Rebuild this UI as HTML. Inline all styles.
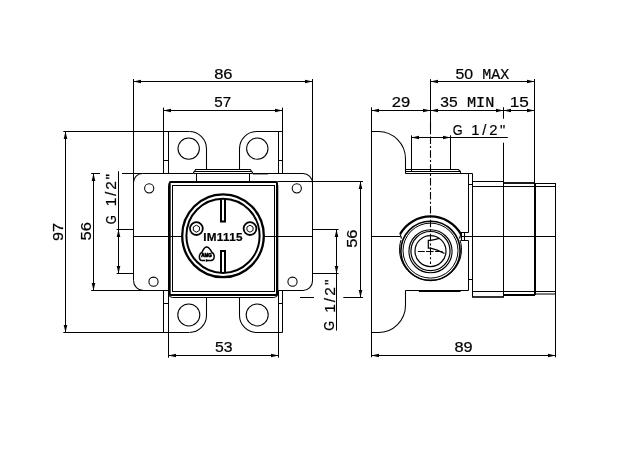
<!DOCTYPE html>
<html><head><meta charset="utf-8"><style>
html,body{margin:0;padding:0;background:#fff;width:630px;height:453px;overflow:hidden}
svg{display:block;will-change:transform}
text{font-family:"Liberation Sans",sans-serif}
</style></head><body>
<svg width="630" height="453" viewBox="0 0 630 453" stroke="#000" stroke-linecap="butt">
<line x1="133.5" y1="81.5" x2="312.5" y2="81.5" stroke-width="1.05" />
<polygon points="133.50,81.50 141.00,79.70 141.00,83.30" fill="#000" stroke="none"/>
<polygon points="312.50,81.50 305.00,79.70 305.00,83.30" fill="#000" stroke="none"/>
<line x1="133.5" y1="79" x2="133.5" y2="280.5" stroke-width="1.05" />
<line x1="312.5" y1="79" x2="312.5" y2="281" stroke-width="1.05" />
<text x="214.17" y="78.94" font-size="14.8" font-weight="normal" text-anchor="start" textLength="18.37" lengthAdjust="spacingAndGlyphs" stroke="#000" stroke-width="0.22" fill="#000">86</text>
<line x1="163.5" y1="110.5" x2="282.5" y2="110.5" stroke-width="1.05" />
<polygon points="163.50,110.50 171.00,108.70 171.00,112.30" fill="#000" stroke="none"/>
<polygon points="282.50,110.50 275.00,108.70 275.00,112.30" fill="#000" stroke="none"/>
<line x1="163.5" y1="107.6" x2="163.5" y2="173.5" stroke-width="1.05" />
<line x1="282.5" y1="107.6" x2="282.5" y2="173.5" stroke-width="1.05" />
<text x="214.21" y="107.26" font-size="14.8" font-weight="normal" text-anchor="start" textLength="16.94" lengthAdjust="spacingAndGlyphs" stroke="#000" stroke-width="0.22" fill="#000">57</text>
<line x1="63.3" y1="131.5" x2="189" y2="131.5" stroke-width="1.05" />
<line x1="63.3" y1="332.5" x2="189" y2="332.5" stroke-width="1.05" />
<line x1="65.5" y1="131.5" x2="65.5" y2="332.5" stroke-width="1.05" />
<polygon points="65.50,131.50 63.70,139.00 67.30,139.00" fill="#000" stroke="none"/>
<polygon points="65.50,332.50 63.70,325.00 67.30,325.00" fill="#000" stroke="none"/>
<text x="63.3" y="240.99" font-size="15.4" font-weight="normal" text-anchor="start" textLength="18.04" lengthAdjust="spacingAndGlyphs" transform="rotate(-90 63.3 240.99)" stroke="#000" stroke-width="0.22" fill="#000">97</text>
<line x1="91.2" y1="173.5" x2="100" y2="173.5" stroke-width="1.05" />
<line x1="122" y1="173.5" x2="142.5" y2="173.5" stroke-width="1.05" />
<line x1="91.2" y1="290.5" x2="143.5" y2="290.5" stroke-width="1.05" />
<line x1="93.5" y1="173.5" x2="93.5" y2="290.5" stroke-width="1.05" />
<polygon points="93.50,173.50 91.70,181.00 95.30,181.00" fill="#000" stroke="none"/>
<polygon points="93.50,290.50 91.70,283.00 95.30,283.00" fill="#000" stroke="none"/>
<text x="90.52" y="240.38" font-size="15.4" font-weight="normal" text-anchor="start" textLength="18.38" lengthAdjust="spacingAndGlyphs" transform="rotate(-90 90.52 240.38)" stroke="#000" stroke-width="0.22" fill="#000">56</text>
<line x1="116.6" y1="229.5" x2="133.5" y2="229.5" stroke-width="1.05" />
<line x1="116.6" y1="273.5" x2="133.5" y2="273.5" stroke-width="1.05" />
<line x1="118.5" y1="171.2" x2="118.5" y2="273.5" stroke-width="1.05" />
<polygon points="118.50,229.50 116.70,237.00 120.30,237.00" fill="#000" stroke="none"/>
<polygon points="118.50,273.50 116.70,266.00 120.30,266.00" fill="#000" stroke="none"/>
<text x="115.69" y="224.35" font-size="15.4" font-weight="normal" text-anchor="start" textLength="9.04" lengthAdjust="spacingAndGlyphs" transform="rotate(-90 115.69 224.35)" stroke="#000" stroke-width="0.22" fill="#000">G</text>
<text x="116.0" y="206.24" font-size="15.4" font-weight="normal" text-anchor="start" textLength="32.26" lengthAdjust="spacing" transform="rotate(-90 116.0 206.24)" stroke="#000" stroke-width="0.22" fill="#000">1/2&quot;</text>
<line x1="133.5" y1="236.5" x2="182" y2="236.5" stroke-width="1.05" />
<line x1="264" y1="236.5" x2="312.5" y2="236.5" stroke-width="1.05" />
<line x1="168.5" y1="355.5" x2="278.5" y2="355.5" stroke-width="1.05" />
<polygon points="168.50,355.50 176.00,353.70 176.00,357.30" fill="#000" stroke="none"/>
<polygon points="278.50,355.50 271.00,353.70 271.00,357.30" fill="#000" stroke="none"/>
<line x1="168.5" y1="290.5" x2="168.5" y2="357.7" stroke-width="1.05" />
<line x1="278.5" y1="290.5" x2="278.5" y2="357.7" stroke-width="1.05" />
<text x="215.0" y="352.49" font-size="14.8" font-weight="normal" text-anchor="start" textLength="17.52" lengthAdjust="spacingAndGlyphs" stroke="#000" stroke-width="0.22" fill="#000">53</text>
<line x1="277.5" y1="181.5" x2="363" y2="181.5" stroke-width="1.05" />
<line x1="300" y1="297.5" x2="314" y2="297.5" stroke-width="1.05" />
<line x1="343.3" y1="297.5" x2="363" y2="297.5" stroke-width="1.05" />
<line x1="360.5" y1="181.5" x2="360.5" y2="297.5" stroke-width="1.05" />
<polygon points="360.50,181.50 358.70,189.00 362.30,189.00" fill="#000" stroke="none"/>
<polygon points="360.50,297.50 358.70,290.00 362.30,290.00" fill="#000" stroke="none"/>
<text x="357.27" y="247.79" font-size="15.4" font-weight="normal" text-anchor="start" textLength="18.2" lengthAdjust="spacingAndGlyphs" transform="rotate(-90 357.27 247.79)" stroke="#000" stroke-width="0.22" fill="#000">56</text>
<line x1="312.5" y1="229.5" x2="338.5" y2="229.5" stroke-width="1.05" />
<line x1="312.5" y1="273.5" x2="338.5" y2="273.5" stroke-width="1.05" />
<line x1="336.5" y1="229.5" x2="336.5" y2="330.6" stroke-width="1.05" />
<polygon points="336.50,229.50 334.70,237.00 338.30,237.00" fill="#000" stroke="none"/>
<polygon points="336.50,273.50 334.70,266.00 338.30,266.00" fill="#000" stroke="none"/>
<text x="333.65" y="330.65" font-size="15.4" font-weight="normal" text-anchor="start" textLength="9.93" lengthAdjust="spacingAndGlyphs" transform="rotate(-90 333.65 330.65)" stroke="#000" stroke-width="0.22" fill="#000">G</text>
<text x="335.0" y="312.87" font-size="15.4" font-weight="normal" text-anchor="start" textLength="33.27" lengthAdjust="spacing" transform="rotate(-90 335.0 312.87)" stroke="#000" stroke-width="0.22" fill="#000">1/2&quot;</text>
<path d="M133.5,182.5 A9,9 0 0 1 142.5,173.5" stroke-width="1.05" fill="none" />
<path d="M133.5,280.5 A10,10 0 0 0 143.5,290.5 L168.5,290.5" stroke-width="1.05" fill="none" />
<path d="M303,173.5 A9.5,9.5 0 0 1 312.5,183" stroke-width="1.05" fill="none" />
<path d="M312.5,281 A9.5,9.5 0 0 1 303,290.5 L278.5,290.5" stroke-width="1.05" fill="none" />
<line x1="142.5" y1="173.5" x2="193.3" y2="173.5" stroke-width="1.05" />
<line x1="252.7" y1="173.5" x2="303" y2="173.5" stroke-width="1.05" />
<circle cx="149.2" cy="188.3" r="4.6" stroke-width="1.05" fill="none" />
<circle cx="296.8" cy="188.3" r="4.6" stroke-width="1.05" fill="none" />
<circle cx="153.5" cy="281.7" r="4.6" stroke-width="1.05" fill="none" />
<circle cx="292.5" cy="281.7" r="4.6" stroke-width="1.05" fill="none" />
<line x1="168.5" y1="131.5" x2="168.5" y2="173.5" stroke-width="1.05" />
<line x1="278.5" y1="131.5" x2="278.5" y2="173.5" stroke-width="1.05" />
<line x1="163.5" y1="160.5" x2="168.5" y2="160.5" stroke-width="1.05" />
<line x1="278.5" y1="160.5" x2="282.5" y2="160.5" stroke-width="1.05" />
<path d="M189.3,131.5 A17.2,17.2 0 0 1 206.5,148.7 L206.5,169.5" stroke-width="1.05" fill="none" />
<path d="M239.5,169.5 L239.5,148.7 A17.2,17.2 0 0 1 256.7,131.5 L282.5,131.5" stroke-width="1.05" fill="none" />
<circle cx="188.7" cy="148.6" r="10.7" stroke-width="1.05" fill="none" />
<circle cx="257.3" cy="148.6" r="10.7" stroke-width="1.05" fill="none" />
<path d="M193.5,173.5 L193.5,172.3 L194.5,171.5 L251.5,171.5 L252.5,172.3 L252.5,173.5" stroke-width="1.05" fill="none" />
<path d="M194.5,171.5 L195.6,169.5 L250.4,169.5 L251.5,171.5" stroke-width="1.05" fill="none" />
<line x1="193.5" y1="173.5" x2="252.5" y2="173.5" stroke-width="1.05" />
<line x1="196.5" y1="173.5" x2="196.5" y2="181.3" stroke-width="1.05" />
<line x1="249.5" y1="173.5" x2="249.5" y2="181.3" stroke-width="1.05" />
<line x1="252.7" y1="174.2" x2="268" y2="174.2" stroke-width="0.6" />
<line x1="163.5" y1="290.5" x2="163.5" y2="332.5" stroke-width="1.05" />
<line x1="282.5" y1="290.5" x2="282.5" y2="332.5" stroke-width="1.05" />
<line x1="163.5" y1="303.5" x2="168.5" y2="303.5" stroke-width="1.05" />
<line x1="278.5" y1="303.5" x2="282.5" y2="303.5" stroke-width="1.05" />
<path d="M206.5,297.5 L206.5,315.3 A17.2,17.2 0 0 1 189.3,332.5" stroke-width="1.05" fill="none" />
<path d="M282.5,332.5 L256.7,332.5 A17.2,17.2 0 0 1 239.5,315.3 L239.5,297.5" stroke-width="1.05" fill="none" />
<circle cx="188.8" cy="314.9" r="11.0" stroke-width="1.05" fill="none" />
<circle cx="257.2" cy="314.9" r="11.0" stroke-width="1.05" fill="none" />
<rect x="168.5" y="181.5" width="109.3" height="116" rx="4" stroke-width="1.0" fill="none"/>
<rect x="169.7" y="182" width="107.3" height="113" rx="1" stroke-width="2.0" fill="none"/>
<rect x="172.5" y="185.5" width="102" height="106" stroke-width="1.0" fill="none"/>
<ellipse cx="223.0" cy="235.8" rx="40.8" ry="41.4" stroke-width="2.3" fill="none"/>
<ellipse cx="223.0" cy="235.8" rx="36.6" ry="37.1" stroke-width="2.0" fill="none"/>
<path d="M221,198.60000000000002 L221,221.4 L225,221.4 L225,198.60000000000002" stroke-width="2.0" fill="none" />
<path d="M221,273.0 L221,250.9 L225,250.9 L225,273.0" stroke-width="2.0" fill="none" />
<circle cx="196.4" cy="228.6" r="6.4" stroke-width="1.8" fill="none" />
<polygon points="196.40,232.20 193.37,230.45 193.37,226.95 196.40,225.20 199.43,226.95 199.43,230.45" stroke-width="0.95" fill="none"/>
<circle cx="250.0" cy="228.6" r="6.4" stroke-width="1.8" fill="none" />
<polygon points="250.00,232.20 246.97,230.45 246.97,226.95 250.00,225.20 253.03,226.95 253.03,230.45" stroke-width="0.95" fill="none"/>
<text x="203.24" y="240.6" font-size="11.7" font-weight="bold" text-anchor="start" textLength="39.26" lengthAdjust="spacing" stroke="#000" stroke-width="0.22" fill="#000">IM1115</text>
<path d="M205.1,260.6 L202.2,260.6 Q199.3,260.4 199.4,256.4 Q199.6,253.2 202.0,252.2 Q204.2,246.9 206.6,246.9 Q209.2,246.9 211.8,252.2 Q214.3,253.4 214.2,256.6 Q214.0,260.5 210.8,260.6 L206.5,260.6 M206.5,259.3 L206.5,261.8" stroke-width="1.5" fill="none" />
<text x="206.5" y="257.2" font-size="5.4" font-weight="bold" text-anchor="middle" textLength="10.6" lengthAdjust="spacingAndGlyphs" stroke="#000" stroke-width="0.7" fill="#000">AMG</text>
<line x1="430.5" y1="81.5" x2="534.5" y2="81.5" stroke-width="1.05" />
<polygon points="430.50,81.50 438.00,79.70 438.00,83.30" fill="#000" stroke="none"/>
<polygon points="534.50,81.50 527.00,79.70 527.00,83.30" fill="#000" stroke="none"/>
<line x1="430.5" y1="79.2" x2="430.5" y2="133" stroke-width="1.05" />
<line x1="534.5" y1="79" x2="534.5" y2="183" stroke-width="1.05" />
<line x1="535" y1="183" x2="535" y2="295" stroke-width="2.0" />
<text x="455.43" y="79.22" font-size="14.8" font-weight="normal" text-anchor="start" textLength="17.62" lengthAdjust="spacingAndGlyphs" stroke="#000" stroke-width="0.22" fill="#000">50</text>
<text style="font-family:Liberation Mono,monospace" x="482.25" y="79.16" font-size="14.8" font-weight="normal" text-anchor="start" textLength="26.97" lengthAdjust="spacingAndGlyphs" stroke="#000" stroke-width="0.22" fill="#000">MAX</text>
<line x1="371.5" y1="110.5" x2="534.5" y2="110.5" stroke-width="1.05" />
<polygon points="371.50,110.50 379.00,108.70 379.00,112.30" fill="#000" stroke="none"/>
<polygon points="430.50,110.50 423.00,108.70 423.00,112.30" fill="#000" stroke="none"/>
<polygon points="430.50,110.50 438.00,108.70 438.00,112.30" fill="#000" stroke="none"/>
<polygon points="503.50,110.50 496.00,108.70 496.00,112.30" fill="#000" stroke="none"/>
<polygon points="503.50,110.50 511.00,108.70 511.00,112.30" fill="#000" stroke="none"/>
<polygon points="534.50,110.50 527.00,108.70 527.00,112.30" fill="#000" stroke="none"/>
<line x1="371.5" y1="107.3" x2="371.5" y2="357.3" stroke-width="1.05" />
<line x1="503.5" y1="107.2" x2="503.5" y2="118.8" stroke-width="1.05" />
<line x1="503.5" y1="142.7" x2="503.5" y2="297.5" stroke-width="1.05" />
<text x="391.85" y="106.86" font-size="14.8" font-weight="normal" text-anchor="start" textLength="18.35" lengthAdjust="spacingAndGlyphs" stroke="#000" stroke-width="0.22" fill="#000">29</text>
<text x="440.27" y="107.22" font-size="14.8" font-weight="normal" text-anchor="start" textLength="17.33" lengthAdjust="spacingAndGlyphs" stroke="#000" stroke-width="0.22" fill="#000">35</text>
<text style="font-family:Liberation Mono,monospace" x="466.92" y="107.15" font-size="14.8" font-weight="normal" text-anchor="start" textLength="27.38" lengthAdjust="spacingAndGlyphs" stroke="#000" stroke-width="0.22" fill="#000">MIN</text>
<text x="509.69" y="107.15" font-size="14.8" font-weight="normal" text-anchor="start" textLength="19.11" lengthAdjust="spacingAndGlyphs" stroke="#000" stroke-width="0.22" fill="#000">15</text>
<line x1="411.5" y1="137.5" x2="507.8" y2="137.5" stroke-width="1.05" />
<polygon points="411.50,137.50 419.00,135.70 419.00,139.30" fill="#000" stroke="none"/>
<polygon points="450.50,137.50 443.00,135.70 443.00,139.30" fill="#000" stroke="none"/>
<line x1="411.5" y1="135.3" x2="411.5" y2="171.5" stroke-width="1.05" />
<line x1="450.5" y1="135.3" x2="450.5" y2="169.5" stroke-width="1.05" />
<text x="452.73" y="134.67" font-size="14.8" font-weight="normal" text-anchor="start" textLength="9.85" lengthAdjust="spacingAndGlyphs" stroke="#000" stroke-width="0.22" fill="#000">G</text>
<text x="471.32" y="135.44" font-size="14.8" font-weight="normal" text-anchor="start" textLength="34.04" lengthAdjust="spacing" stroke="#000" stroke-width="0.22" fill="#000">1/2&quot;</text>
<line x1="371.5" y1="355.5" x2="555.5" y2="355.5" stroke-width="1.05" />
<polygon points="371.50,355.50 379.00,353.70 379.00,357.30" fill="#000" stroke="none"/>
<polygon points="555.50,355.50 548.00,353.70 548.00,357.30" fill="#000" stroke="none"/>
<line x1="555.5" y1="183" x2="555.5" y2="357.3" stroke-width="1.05" />
<text x="454.48" y="351.67" font-size="14.8" font-weight="normal" text-anchor="start" textLength="18.1" lengthAdjust="spacingAndGlyphs" stroke="#000" stroke-width="0.22" fill="#000">89</text>
<path d="M371.5,131.5 L378.5,131.5 A27.3,27.3 0 0 1 405.5,158.8 L405.5,173.5" stroke-width="1.05" fill="none" />
<path d="M371.5,332.5 L378.3,332.5 A27.2,27.2 0 0 0 405.5,305.3 L405.5,290.5" stroke-width="1.05" fill="none" />
<path d="M405.5,169.5 L458.4,169.5 L460.5,171.5 L460.5,173.5" stroke-width="1.05" fill="none" />
<line x1="405.5" y1="171.5" x2="460.5" y2="171.5" stroke-width="1.05" />
<line x1="405.5" y1="173.5" x2="472.5" y2="173.5" stroke-width="1.05" />
<line x1="405.5" y1="290.5" x2="468.5" y2="290.5" stroke-width="1.05" />
<line x1="418.9" y1="291.5" x2="460.6" y2="291.5" stroke-width="1.2" />
<line x1="468.5" y1="173.5" x2="468.5" y2="232.5" stroke-width="1.05" />
<line x1="468.5" y1="240.5" x2="468.5" y2="290.5" stroke-width="1.05" />
<line x1="472.5" y1="173.5" x2="472.5" y2="297.5" stroke-width="1.05" />
<line x1="468.5" y1="184.5" x2="472.5" y2="184.5" stroke-width="1.05" />
<line x1="468.5" y1="279.5" x2="472.5" y2="279.5" stroke-width="1.05" />
<path d="M461,232.5 L468.5,232.5 M461,240.5 L468.5,240.5 M464.5,232.5 L464.5,240.5 M461.5,232.5 L461.5,240.5" stroke-width="1.05" fill="none" />
<line x1="472.5" y1="181.5" x2="503.5" y2="181.5" stroke-width="1.05" />
<line x1="503.5" y1="183" x2="534.5" y2="183" stroke-width="1.8" />
<line x1="534.5" y1="183.5" x2="555.5" y2="183.5" stroke-width="1.05" />
<line x1="472.5" y1="186.5" x2="555.5" y2="186.5" stroke-width="1.05" />
<line x1="472.5" y1="297" x2="503.5" y2="297" stroke-width="1.6" />
<line x1="503.5" y1="295" x2="535" y2="295" stroke-width="2.0" />
<line x1="535" y1="294" x2="555.5" y2="294" stroke-width="1.05" />
<line x1="472.5" y1="291.5" x2="555.5" y2="291.5" stroke-width="1.05" />
<line x1="371.5" y1="236.5" x2="400.0" y2="236.5" stroke-width="1.05" />
<line x1="461.5" y1="236.5" x2="555.5" y2="236.5" stroke-width="1.05" />
<circle cx="430.5" cy="251.05" r="15.5" stroke-width="1.2" fill="none" />
<circle cx="430.5" cy="251.05" r="19.55" stroke-width="1.2" fill="none" />
<circle cx="430.5" cy="251.25" r="21.55" stroke-width="1.1" fill="none" />
<circle cx="430.5" cy="250.6" r="27.5" stroke-width="1.0" fill="none" />
<circle cx="430.5" cy="250.8" r="29.6" stroke-width="1.6" fill="none" />
<path d="M400.1,234.1 A35,35 0 0 1 460.9,234.1" stroke-width="2.2" fill="none" />
<path d="M400.1,234.1 L401.5,238.5 M460.9,234.1 L459.5,238.5" stroke-width="1.2" fill="none" />
<path d="M401,240 A31,31 0 1 0 460,240" stroke-width="1.0" fill="none" />
<path d="M439.2,238.3 Q434,239.8 430.5,240.3 L428.3,240.3 L428.3,248.2 L430.5,248.2 Q437,249.5 444.5,253.5" stroke-width="1.2" fill="none" />
<line x1="430.5" y1="122.5" x2="430.5" y2="264" stroke-width="1.1" stroke-dasharray="7.5,2.2,2,2.2"/>
<line x1="417.9" y1="251.5" x2="442.6" y2="251.5" stroke-width="1.1" stroke-dasharray="6.9,1.2,7.6,1.5,7.5"/>
</svg>
</body></html>
